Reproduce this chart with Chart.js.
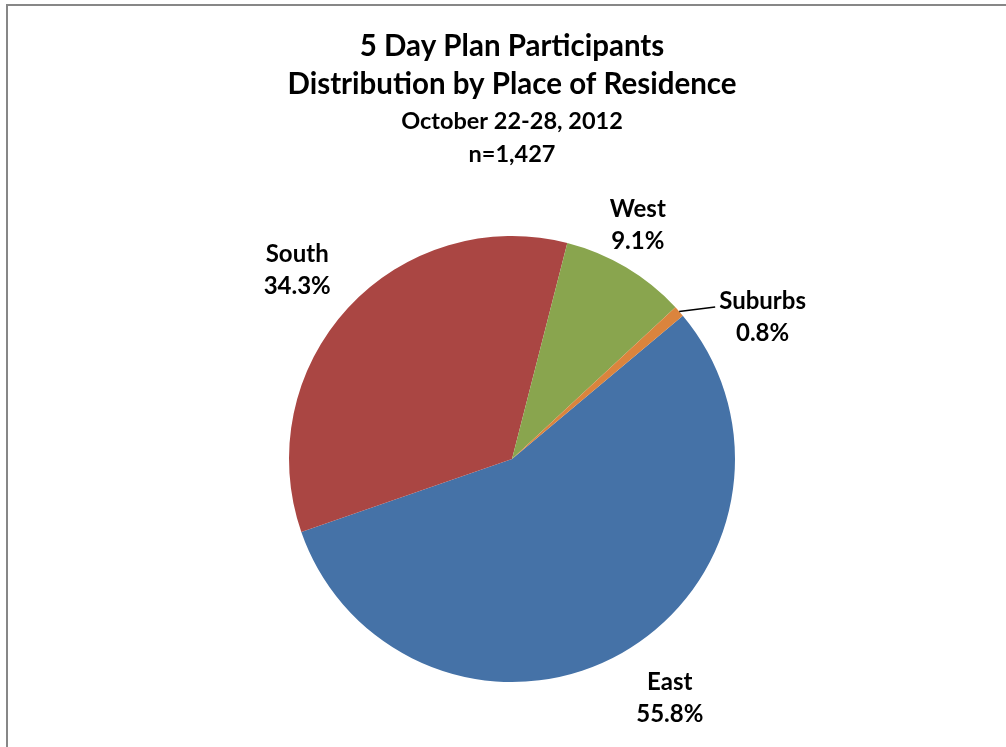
<!DOCTYPE html>
<html>
<head>
<meta charset="utf-8">
<title>5 Day Plan Participants</title>
<script src="https://cdn.jsdelivr.net/npm/chart.js@4.4.1/dist/chart.umd.min.js"></script>
<style>
  html, body { margin: 0; padding: 0; background: #fff; }
  #frame {
    position: absolute; left: 6px; top: 4px;
    width: 1100px; height: 800px;
    border-left: 2px solid #878787; border-top: 2px solid #878787;
  }
  #grafico { position: absolute; left: 0; top: 0; }
</style>
</head>
<body>
<div id="frame"></div>
<canvas id="grafico" width="1006" height="747"></canvas>
<script>
// Dados do gráfico
const regioes = ["East", "South", "West", "Suburbs"];
const percentuais = [55.8, 34.3, 9.1, 0.8];
const cores = ["#4572A7", "#AA4643", "#89A54E", "#DB843D"];
const titulo = ["5 Day Plan Participants", "Distribution by Place of Residence"];
const subtitulo = ["October 22-28, 2012", "n=1,427"];

const fonte = "Lato, 'Liberation Sans', sans-serif";

// Ajuste de cada rótulo: giro (graus) e distância além da borda da pizza
const ajusteRotulos = {
    East: { giro: -3.8, folga: 64 },
    South: { giro: -1.3, folga: 63 },
    West: { giro: -2.4, folga: 42 },
    Suburbs: { giro: 11.9, folga: 65, guia: true }
};

// Plugin que escreve nome e percentual fora de cada fatia
const rotulosExternos = {
    id: "rotulosExternos",
    afterDatasetsDraw(chart) {
        const ctx = chart.ctx;
        const meta = chart.getDatasetMeta(0);
        ctx.save();
        ctx.font = "bold 24px " + fonte;
        ctx.fillStyle = "#000";
        ctx.textAlign = "center";
        ctx.textBaseline = "middle";
        meta.data.forEach(function (arco, i) {
            const p = arco.getProps(["x", "y", "startAngle", "endAngle", "outerRadius"], true);
            const nome = chart.data.labels[i];
            const aj = ajusteRotulos[nome];
            const meio = (p.startAngle + p.endAngle) / 2;
            const ang = meio + aj.giro * Math.PI / 180;
            const dist = p.outerRadius + aj.folga;
            const lx = p.x + Math.cos(ang) * dist;
            const ly = p.y + Math.sin(ang) * dist;
            const valor = chart.data.datasets[0].data[i].toFixed(1) + "%";
            ctx.fillText(nome, lx, ly - 16);
            ctx.fillText(valor, lx, ly + 16);
            if (aj.guia) {
                // linha guia da borda da fatia até o texto
                const w = ctx.measureText(nome).width;
                ctx.beginPath();
                ctx.strokeStyle = "#000";
                ctx.lineWidth = 1.5;
                ctx.moveTo(p.x + Math.cos(meio) * p.outerRadius, p.y + Math.sin(meio) * p.outerRadius);
                ctx.lineTo(lx - w / 2 - 4, ly - 10);
                ctx.stroke();
            }
        });
        ctx.restore();
    }
};

const contexto = document.getElementById("grafico").getContext("2d");
const grafico = new Chart(contexto, {
    type: "pie",
    data: {
        labels: regioes,
        datasets: [{
            data: percentuais,
            backgroundColor: cores,
            borderWidth: 0
        }]
    },
    options: {
        responsive: false,
        animation: false,
        rotation: 50,
        layout: { padding: { left: 18, right: 0, top: 0, bottom: 65 } },
        plugins: {
            legend: { display: false },
            tooltip: { enabled: false },
            title: {
                display: true,
                text: titulo,
                color: "#000",
                font: { family: fonte, size: 29.5, weight: "bold", lineHeight: 38 / 29.5 },
                padding: { top: 27, bottom: 0 }
            },
            subtitle: {
                display: true,
                text: subtitulo,
                color: "#000",
                font: { family: fonte, size: 23.5, weight: "bold", lineHeight: 33 / 23.5 },
                padding: { top: 1.5, bottom: 65.5 }
            }
        }
    },
    plugins: [rotulosExternos]
});
</script>
</body>
</html>
